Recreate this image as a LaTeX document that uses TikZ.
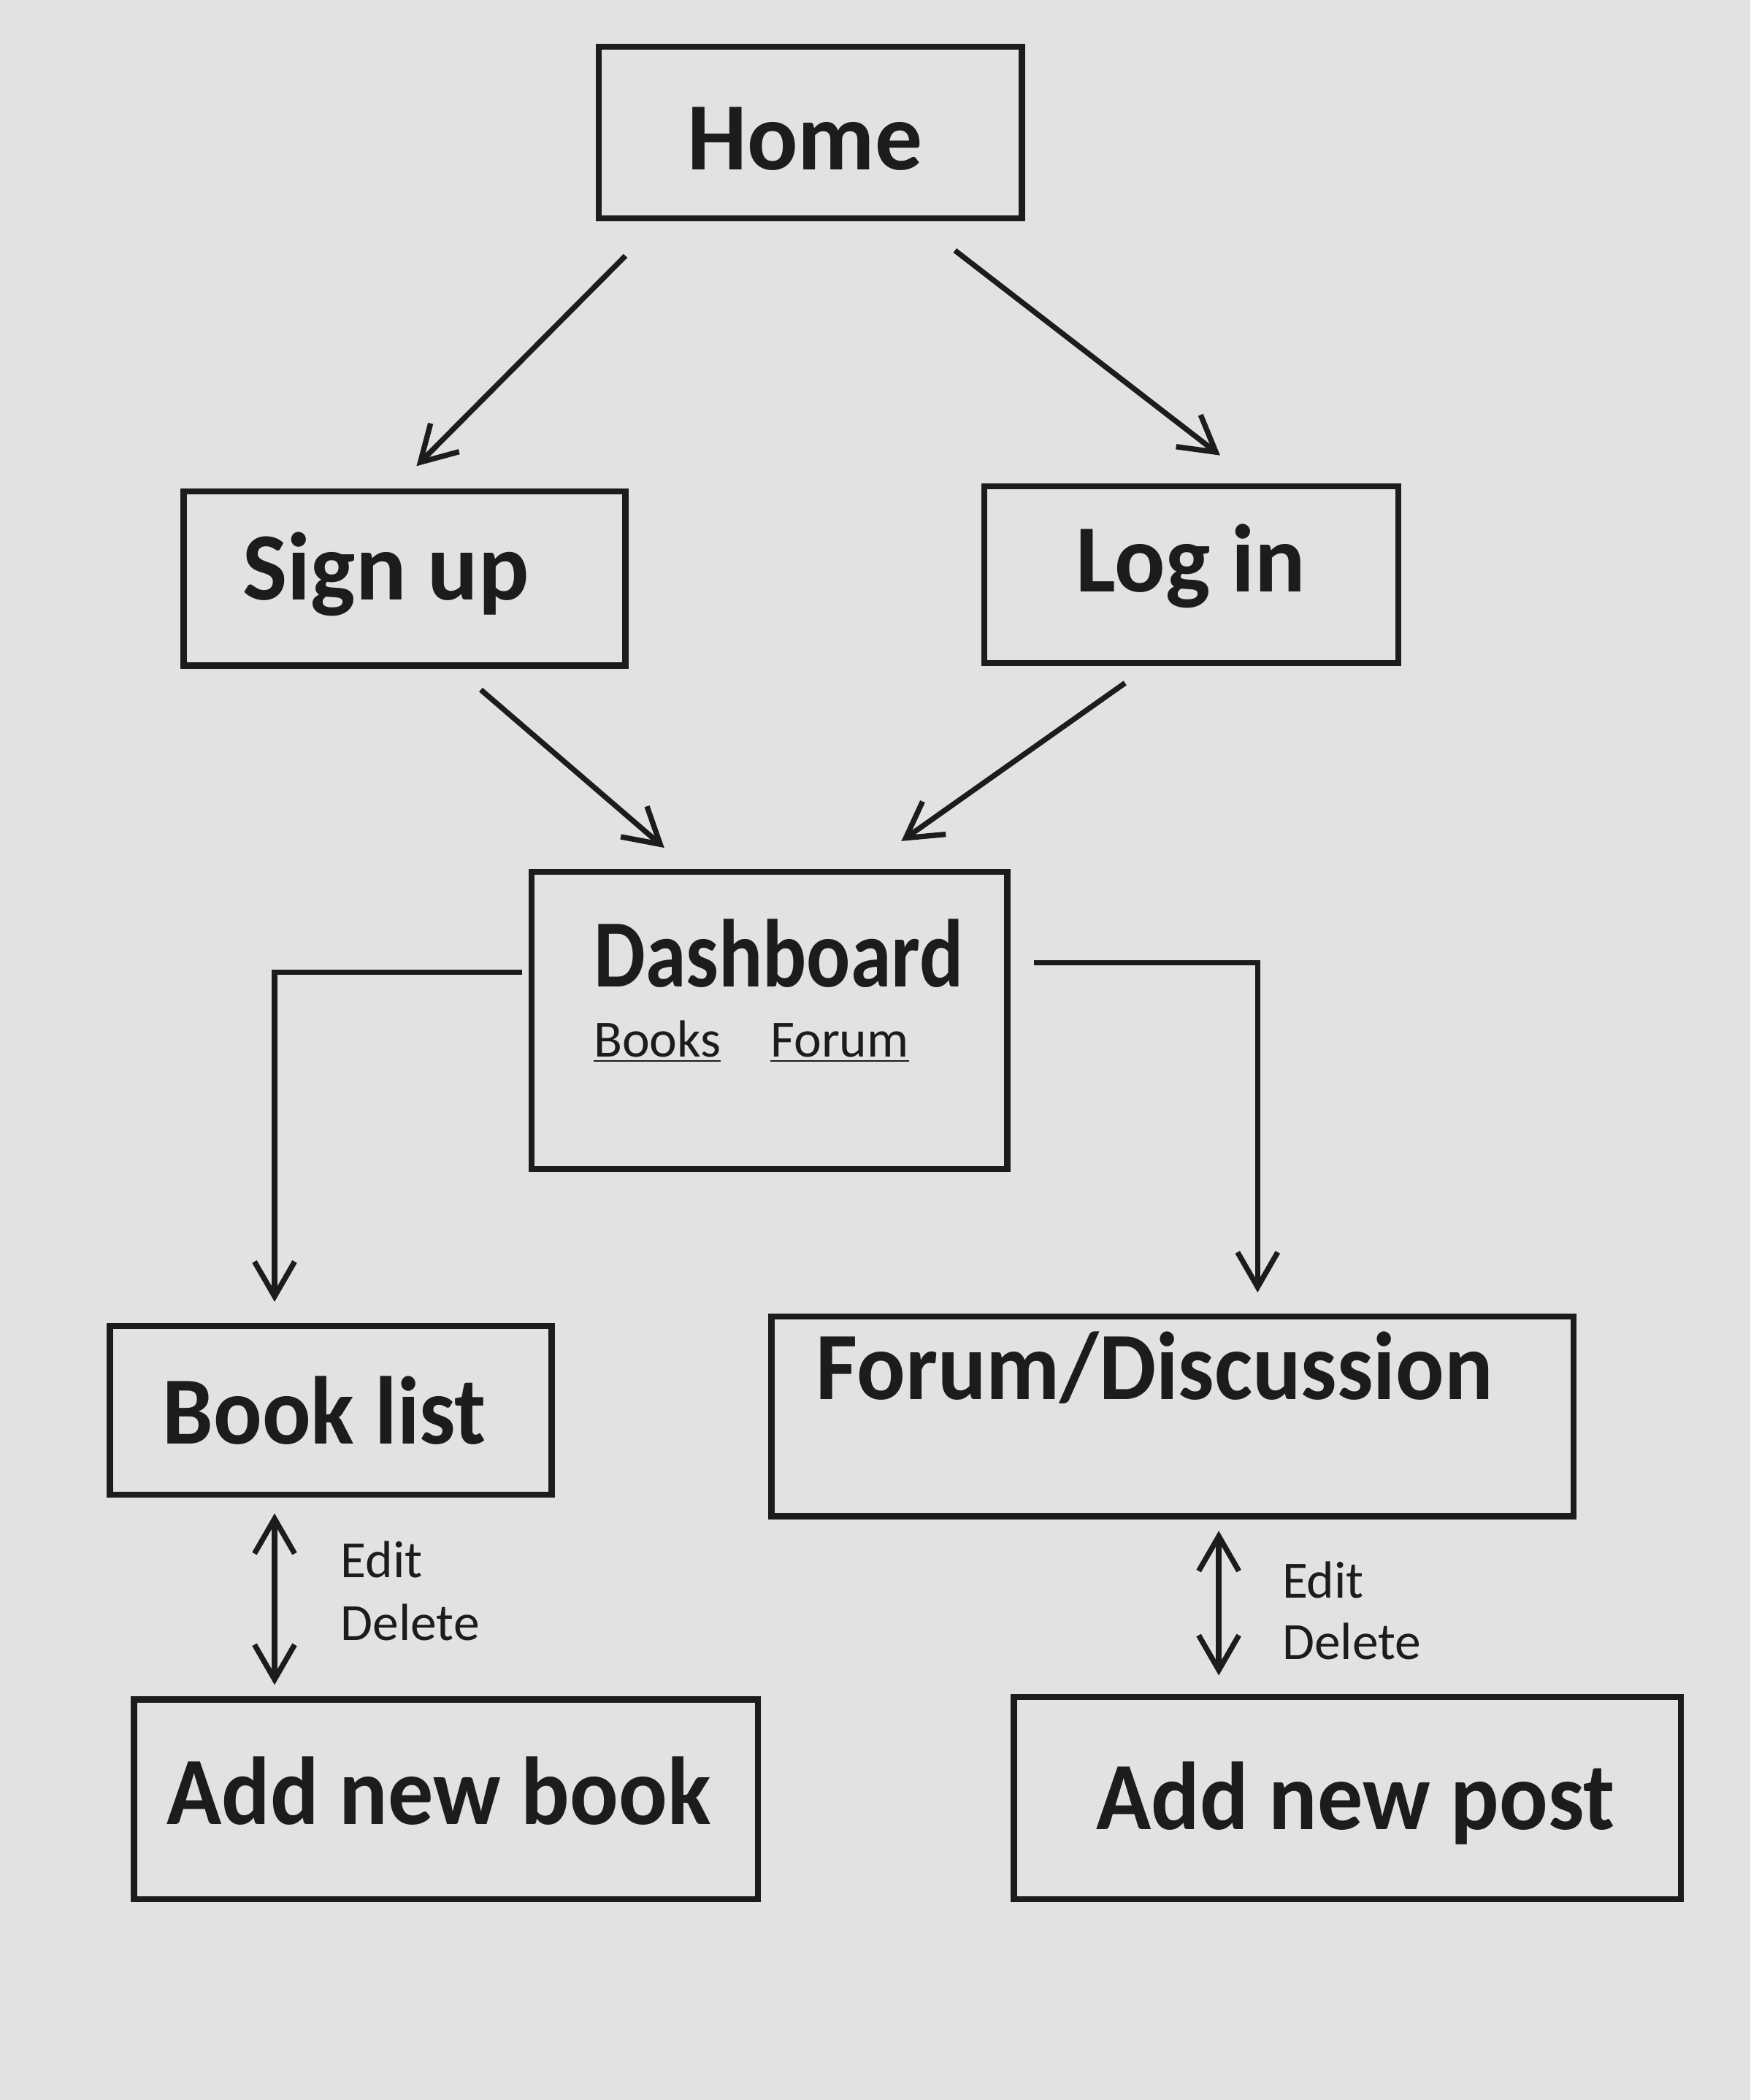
\documentclass[tikz,border=0pt]{standalone}
\usepackage{fontspec}
\setmainfont{Carlito}
\newfontfamily\headA[FakeStretch=0.98]{Carlito}
\newfontfamily\headB[FakeStretch=0.94]{Carlito}
\newfontfamily\headC[FakeStretch=0.85]{Carlito}
\usetikzlibrary{arrows.meta}
\definecolor{paper}{HTML}{E2E2E0}
\definecolor{ink}{HTML}{1C1C1C}
\tikzset{
  box/.style={draw=ink, line width=2.3pt, inner sep=0pt, fill=none},
  head/.style={anchor=base west, inner sep=0pt, text=ink, font=\headB\bfseries\fontsize{36}{40}\selectfont},
  headwide/.style={head, font=\headA\bfseries\fontsize{36}{40}\selectfont},
  headnarrow/.style={head, font=\headC\bfseries\fontsize{36}{40}\selectfont},
  small/.style={anchor=base west, inner sep=0pt, text=ink, font=\fontsize{19.5}{22}\selectfont},
  conn/.style={draw=ink, line width=2pt, -{Straight Barb[length=13pt,width=15pt]}},
  both/.style={draw=ink, line width=2pt, {Straight Barb[length=13pt,width=15pt]}-{Straight Barb[length=13pt,width=15pt]}},
}
\begin{document}
\begin{tikzpicture}[x=0.5pt,y=-0.5pt]
\useasboundingbox (0,0) rectangle (1307,1568);
\fill[paper] (0,0) rectangle (1307,1568);
% boxes
\node[box, minimum width=158pt, minimum height=64pt] (home) at (605,99) {};
\node[box, minimum width=165pt, minimum height=65pt] (signup) at (302,432) {};
\node[box, minimum width=154.5pt, minimum height=66pt] (login) at (889.5,429) {};
\node[box, minimum width=177.5pt, minimum height=111pt] (dash) at (574.5,762) {};
\node[box, minimum width=165pt, minimum height=63pt] (booklist) at (247,1053) {};
\node[box, minimum width=299.5pt, minimum height=74.5pt] (forum) at (875.5,1057.5) {};
\node[box, minimum width=233pt, minimum height=74.5pt] (addbook) at (333,1343.5) {};
\node[box, minimum width=249pt, minimum height=75.5pt] (addpost) at (1006,1342.5) {};
% texts
\node[headwide] (thome) at (513,127) {Home};
\node[headwide] (tsignup) at (181,448) {Sign up};
\node[headwide] (tlogin) at (803,442) {Log in};
\node[headnarrow] (tdash) at (443,737) {Dashboard};
\node[small] (tbooks) at (443,789) {\underline{Books}};
\node[small] (tforum) at (575,789) {\underline{Forum}};
\node[head] (tbooklist) at (121,1078) {Book list};
\node[head] (tforumd) at (609,1045) {Forum/Discussion};
\node[head] (taddbook) at (124,1362) {Add new book};
\node[head] (taddpost) at (818,1366) {Add new post};
\node[small] (edit1) at (254,1178) {Edit};
\node[small] (del1) at (254,1225) {Delete};
\node[small] (edit2) at (957,1193) {Edit};
\node[small] (del2) at (957,1239) {Delete};
% connector ends
\coordinate (h1) at (467,191);
\coordinate (s1) at (311,348);
\coordinate (h2) at (713,187);
\coordinate (l1) at (911,340);
\coordinate (s2) at (359,515);
\coordinate (d1) at (496,633);
\coordinate (l2) at (840,510);
\coordinate (d2) at (673,628);
\coordinate (d3) at (390,726);
\coordinate (b1) at (205,972);
\coordinate (d4) at (772,719);
\coordinate (f1) at (939,965);
\coordinate (b2) at (205,1130);
\coordinate (a1) at (205,1258);
\coordinate (f2) at (910,1143);
\coordinate (a2) at (910,1251);
% connectors
\draw[conn] (h1) -- (s1);
\draw[conn] (h2) -- (l1);
\draw[conn] (s2) -- (d1);
\draw[conn] (l2) -- (d2);
\draw[conn] (d3) -| (b1);
\draw[conn] (d4) -| (f1);
\draw[both] (b2) -- (a1);
\draw[both] (f2) -- (a2);
\end{tikzpicture}
\end{document}
